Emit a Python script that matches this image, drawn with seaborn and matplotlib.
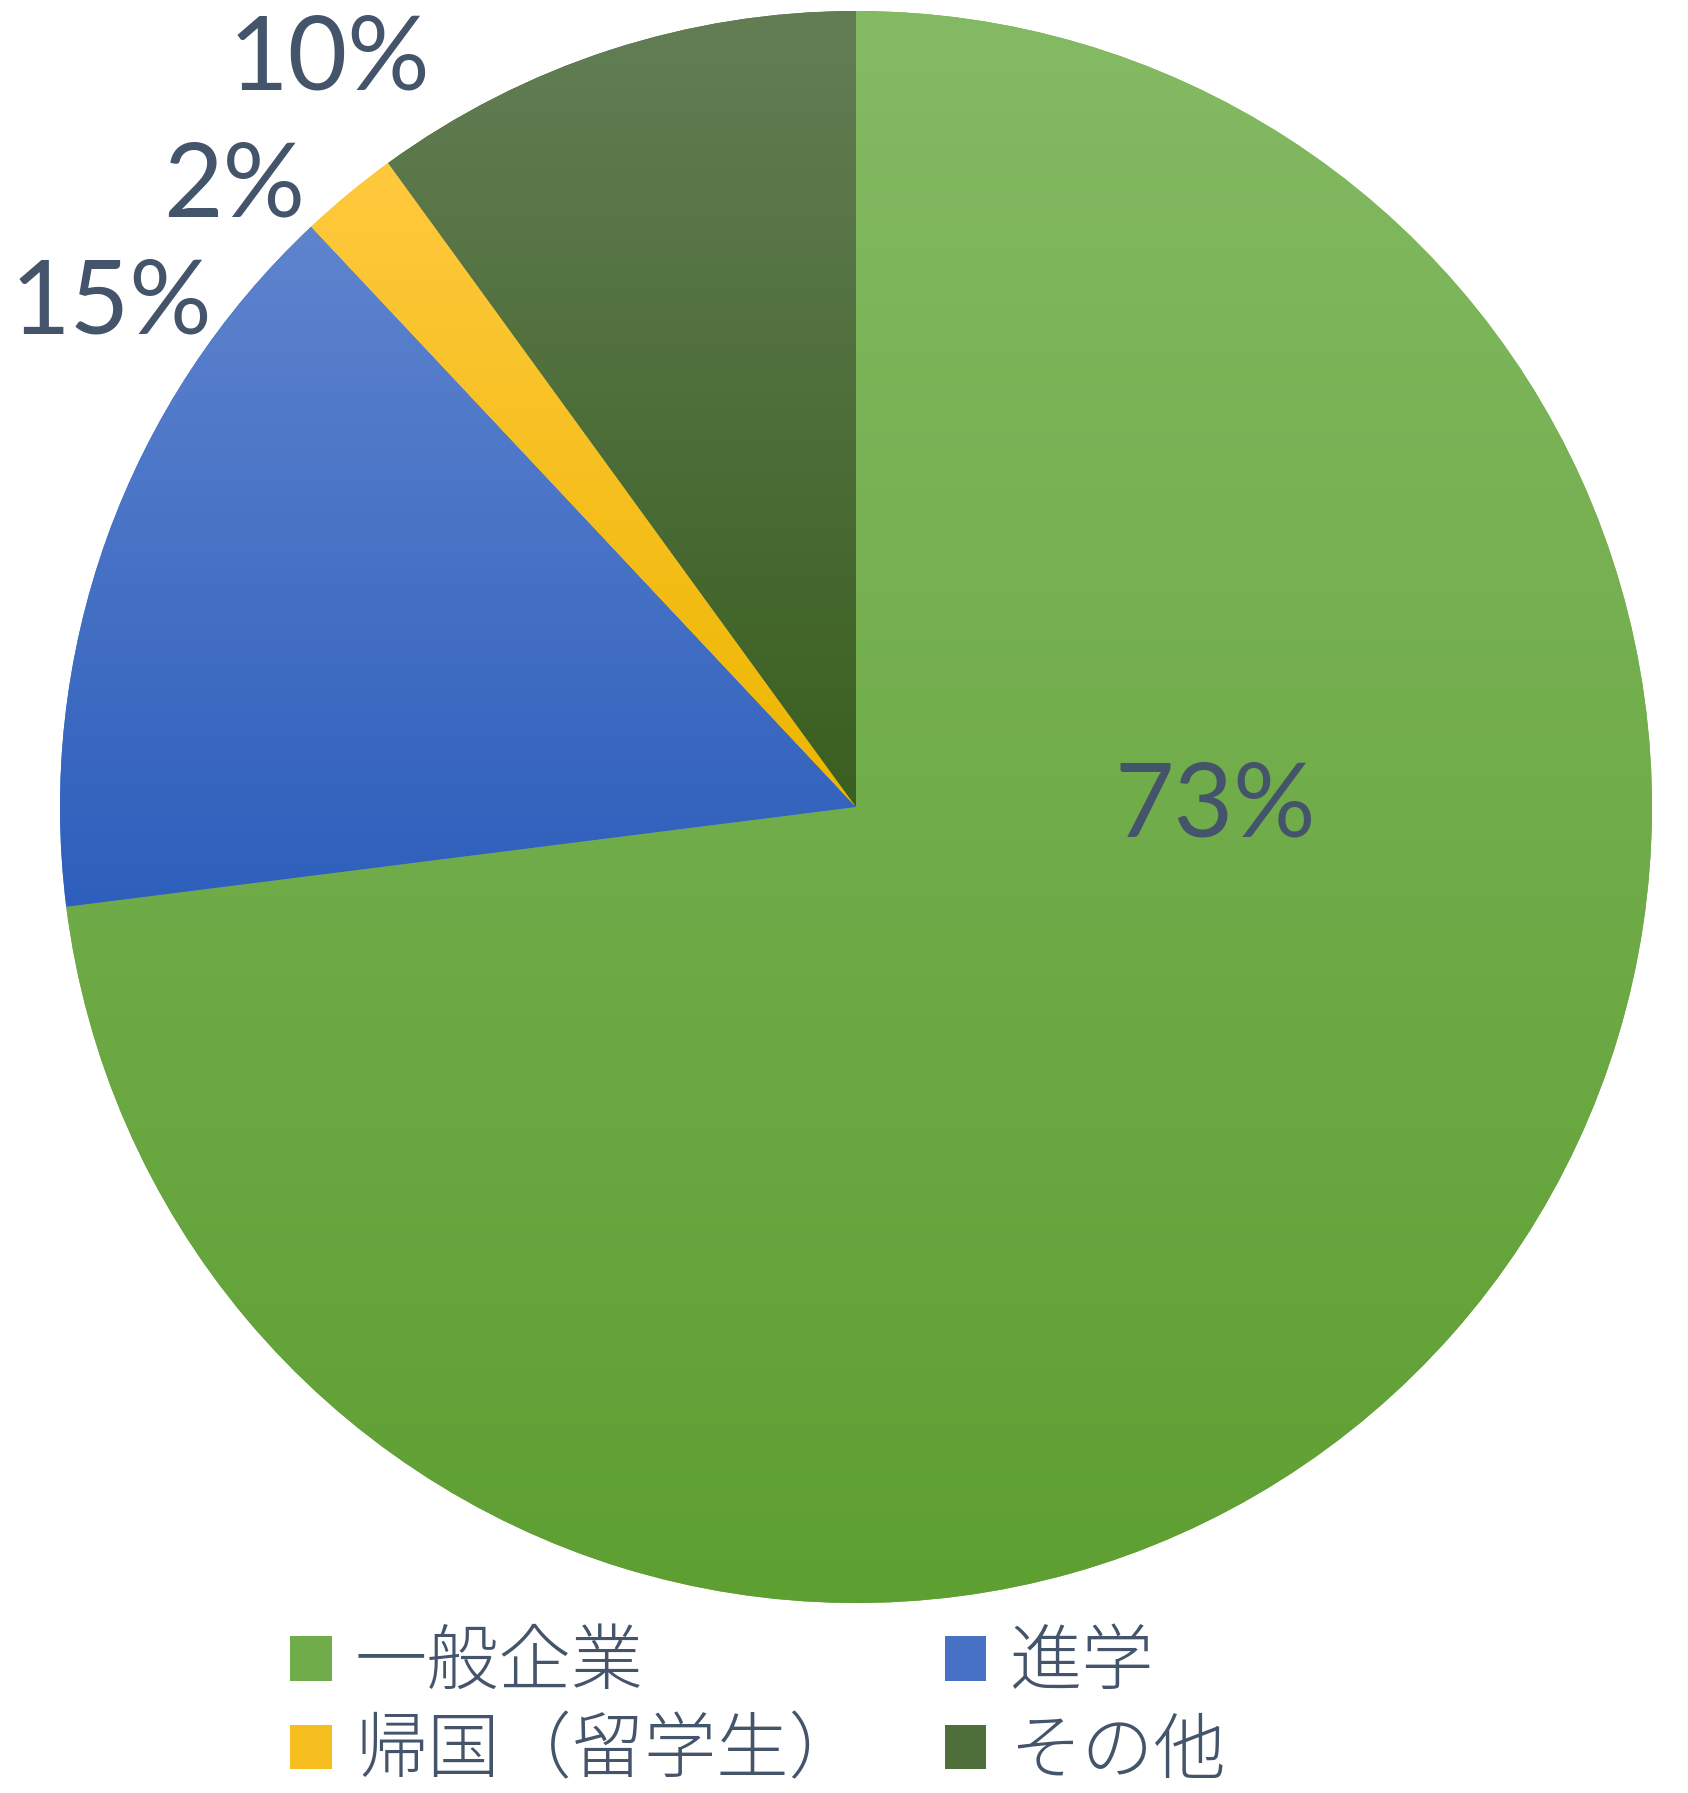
import numpy as np
import matplotlib.pyplot as plt
import matplotlib.colors as mcolors
from matplotlib.patches import Patch
import seaborn as sns

# data
categories = ["一般企業", "進学", "帰国（留学生）", "その他"]
shares = [73, 15, 2, 10]
pct_labels = ["73%", "15%", "2%", "10%"]

# gradient colours per slice (top -> bottom)
top_colors = ["#84BA63", "#5E84CE", "#FFC93E", "#637E55"]
bottom_colors = ["#5E9F32", "#2E5FBC", "#EDB600", "#3A5F1F"]

TEXT = "#44546A"

sns.set_theme(style="white")
plt.rcParams['font.family'] = ['Lato', 'Noto Sans CJK JP', 'DejaVu Sans']

W, H = 1688, 1793
cx, cy, R = 856, 807, 796   # pie centre / radius in pixels (from top-left)

fig = plt.figure(figsize=(W / 100, H / 100), dpi=100)
ax = fig.add_axes([0, 0, 1, 1])

mid_colors = [sns.blend_palette([t, b], 3)[1] for t, b in zip(top_colors, bottom_colors)]
wedges, _ = ax.pie(shares, startangle=90, counterclock=False, colors=mid_colors,
                   wedgeprops=dict(linewidth=0))

# vertical gradient fill inside every wedge
for w, t, b in zip(wedges, top_colors, bottom_colors):
    ext = w.get_path().get_extents()
    grad = np.linspace(mcolors.to_rgb(t), mcolors.to_rgb(b), 256).reshape(256, 1, 3)
    im = ax.imshow(grad, extent=(ext.x0, ext.x1, ext.y0, ext.y1), origin='upper',
                   aspect='auto', interpolation='bilinear', zorder=2)
    im.set_clip_path(w)

# percentage labels (angle in degrees, distance in radii)
label_pos = [(0.0, 0.451), (146.0, 1.129), (135.1, 1.103), (125.2, 1.148)]
for txt, (ang, r) in zip(pct_labels, label_pos):
    a = np.deg2rad(ang)
    ax.text(r * np.cos(a), r * np.sin(a), txt, fontsize=74, color=TEXT,
            ha='center', va='center', family=['Lato', 'DejaVu Sans'], zorder=5)

ax.set_xlim(-cx / R, (W - cx) / R)
ax.set_ylim(-(H - cy) / R, cy / R)
ax.set_aspect('auto')
ax.axis('off')

# legend: two columns, order as in the reference
order = [0, 2, 1, 3]
handles = [Patch(facecolor=mid_colors[i], linewidth=0) for i in order]
labels = [categories[i] for i in order]
leg = ax.legend(handles, labels, ncol=2, frameon=False,
                loc='upper left', bbox_to_anchor=(290 / W, 1 - 1626 / H),
                bbox_transform=fig.transFigure, borderpad=0, borderaxespad=0,
                handlelength=0.58, handleheight=0.58, handletextpad=0.32,
                columnspacing=1.16, labelspacing=0.18,
                prop=dict(family=['Noto Sans CJK JP'], size=52, weight='light'))
for t in leg.get_texts():
    t.set_color(TEXT)

fig.savefig("out.png", dpi=100, facecolor="white")
